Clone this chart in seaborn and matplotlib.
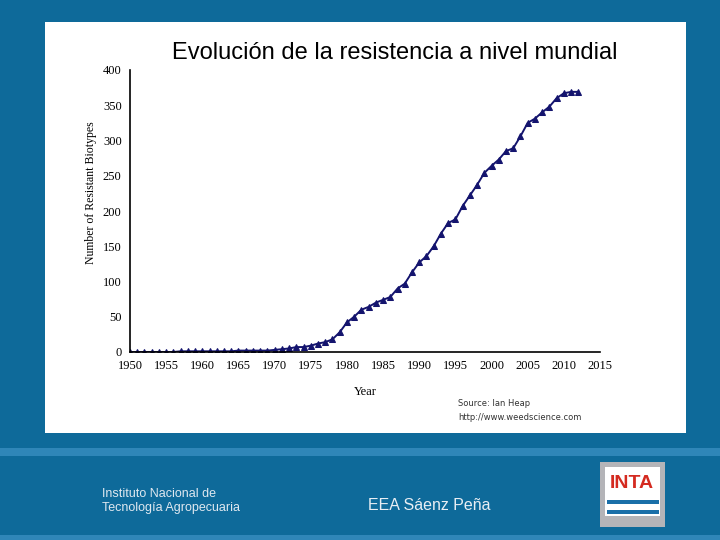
import numpy as np
import pandas as pd
import matplotlib
matplotlib.use("Agg")
import matplotlib.pyplot as plt
import matplotlib.patches as mpatches
import seaborn as sns

years = list(range(1950, 2013))
biotypes = [0, 0, 0, 0, 0, 0, 0, 1, 1, 1,
            1, 1, 1, 1, 1, 2, 2, 2, 2, 2,
            3, 4, 5, 7, 7, 9, 12, 14, 18, 28,
            42, 50, 60, 64, 70, 74, 78, 90, 97, 113,
            127, 136, 150, 168, 183, 188, 207, 222, 237, 254,
            264, 273, 285, 289, 306, 325, 331, 340, 348, 360,
            367, 369, 369]
x_ticks = list(range(1950, 2016, 5))
y_ticks = list(range(0, 401, 50))

title = "Evolución de la resistencia a nivel mundial"
y_label = "Number of Resistant Biotypes"
x_label = "Year"
source_lines = ["Source: Ian Heap", "http://www.weedscience.com"]

df = pd.DataFrame({"year": years, "biotypes": biotypes})

sns.set_theme(style="white")
slide_blue = "#0e6a9a"
line_col = "#14146e"


def fig_rect(x0, y0, w, h, color, z=-5):
    # rectangle given in pixel coords of the 720x540 slide (y from top)
    r = mpatches.Rectangle((x0 / 720, 1 - (y0 + h) / 540), w / 720, h / 540,
                           transform=fig.transFigure, facecolor=color,
                           edgecolor="none", zorder=z)
    fig.patches.append(r)


fig = plt.figure(figsize=(7.2, 5.4), dpi=100)
fig.patch.set_facecolor(slide_blue)

fig_rect(45, 22, 641, 411, "white")
fig_rect(0, 448, 720, 8, "#2f86b8")
fig_rect(0, 535, 720, 5, "#2f86b8")

ax = fig.add_axes([130 / 720, 1 - 352 / 540, 470 / 720, 282 / 540], zorder=5)
ax.set_facecolor("none")
sns.lineplot(data=df, x="year", y="biotypes", ax=ax, color=line_col, linewidth=1.4,
             marker="^", markersize=5, markeredgecolor=line_col, markerfacecolor=line_col)

ax.set_xlim(1950, 2015)
ax.set_ylim(0, 400)
ax.set_xticks(x_ticks)
ax.set_yticks(y_ticks)
for s in ["top", "right"]:
    ax.spines[s].set_visible(False)
for s in ["left", "bottom"]:
    ax.spines[s].set_color("black")
    ax.spines[s].set_linewidth(1.2)
ax.tick_params(direction="out", length=3, width=1, color="black", pad=3,
               labelsize=9, labelcolor="black")
for lab in ax.get_xticklabels() + ax.get_yticklabels():
    lab.set_family("Liberation Serif")
ax.set_xlabel(x_label, family="Liberation Serif", fontsize=9, color="black")
ax.set_ylabel(y_label, family="Liberation Serif", fontsize=8.5, color="black")
ax.xaxis.set_label_coords(0.5, -0.12)
ax.yaxis.set_label_coords(-0.07, 0.565)

fig.text(395 / 720, 1 - 53 / 540, title, ha="center", va="center",
         family="Liberation Sans", fontsize=17, color="black")
fig.text(458 / 720, 1 - 404 / 540, source_lines[0], ha="left", va="center",
         family="DejaVu Sans", fontsize=6, color="#333333")
fig.text(458 / 720, 1 - 417 / 540, source_lines[1], ha="left", va="center",
         family="DejaVu Sans", fontsize=6, color="#333333")

# footer texts
fig.text(102 / 720, 1 - 494 / 540, "Instituto Nacional de", ha="left", va="center",
         family="Liberation Sans", fontsize=9, color="#dfe8f0")
fig.text(102 / 720, 1 - 508 / 540, "Tecnología Agropecuaria", ha="left", va="center",
         family="Liberation Sans", fontsize=9, color="#dfe8f0")
fig.text(368 / 720, 1 - 505 / 540, "EEA Sáenz Peña", ha="left", va="center",
         family="Liberation Sans", fontsize=11.5, color="#e8eef4")

# INTA logo
fig_rect(600, 462, 65, 65, "#b4b4b8", z=1)
fig_rect(605, 467, 55, 49, "white", z=2)
fig_rect(607, 500, 52, 4, "#1a6fa8", z=3)
fig_rect(607, 510, 52, 4, "#1a6fa8", z=3)
fig.text(632 / 720, 1 - 483 / 540, "INTA", ha="center", va="center",
         family="Liberation Sans", fontsize=14, fontweight="bold", color="#d42a20",
         zorder=4)

fig.savefig("out.png", dpi=100, facecolor=fig.get_facecolor())
